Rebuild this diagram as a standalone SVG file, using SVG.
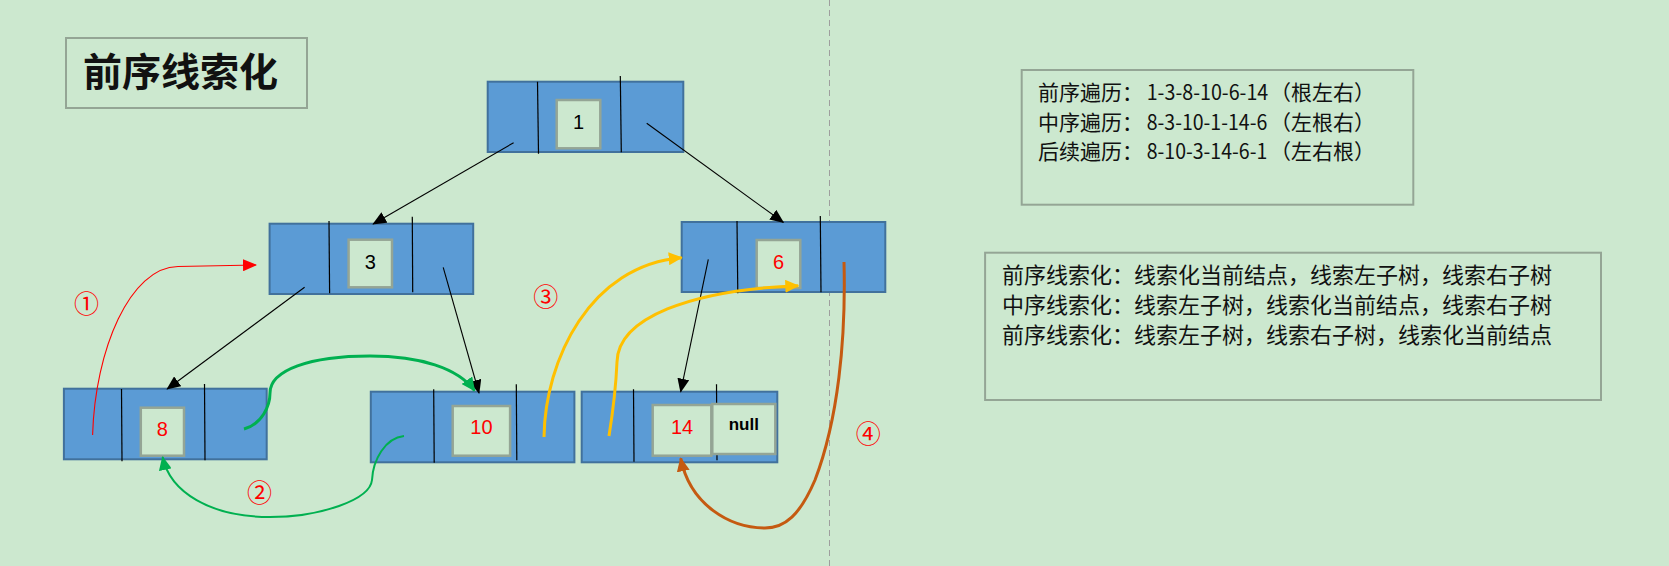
<svg xmlns="http://www.w3.org/2000/svg" width="1669" height="566" viewBox="0 0 1669 566">
<style>
.node{fill:#5B9BD5;stroke:#41719C;stroke-width:2}
.div{stroke:#000;stroke-width:1.2}
.val{fill:#CCE8CF;stroke:#94A595;stroke-width:2.5}
.num{font-family:"Liberation Sans",Arial,sans-serif;font-size:20px;text-anchor:middle}
.box{fill:none;stroke:#94A595;stroke-width:2}
.cjk{font-family:"Noto Sans CJK SC","Noto Sans",sans-serif;fill:#111}
.circ{font-family:"Noto Sans CJK SC",sans-serif;font-size:25px;fill:#FF0000;text-anchor:middle}
.blk{fill:none;stroke:#000;stroke-width:1.1}
</style>
<defs>
<marker id="aBlk" markerUnits="userSpaceOnUse" markerWidth="14" markerHeight="12" viewBox="0 0 14 12" refX="13" refY="6" orient="auto"><path d="M0,0 L14,6 L0,12 z" fill="#000"/></marker>
<marker id="aRed" markerUnits="userSpaceOnUse" markerWidth="14" markerHeight="12" viewBox="0 0 14 12" refX="13" refY="6" orient="auto"><path d="M0,0 L14,6 L0,12 z" fill="#FF0000"/></marker>
<marker id="aGrn" markerUnits="userSpaceOnUse" markerWidth="14" markerHeight="13" viewBox="0 0 14 13" refX="13" refY="6.5" orient="auto"><path d="M0,0 L14,6.5 L0,13 z" fill="#00B050"/></marker>
<marker id="aYel" markerUnits="userSpaceOnUse" markerWidth="14" markerHeight="13" viewBox="0 0 14 13" refX="13" refY="6.5" orient="auto"><path d="M0,0 L14,6.5 L0,13 z" fill="#FFC000"/></marker>
<marker id="aBrn" markerUnits="userSpaceOnUse" markerWidth="14" markerHeight="13" viewBox="0 0 14 13" refX="13" refY="6.5" orient="auto"><path d="M0,0 L14,6.5 L0,13 z" fill="#C55A11"/></marker>
</defs>
<rect x="0" y="0" width="1669" height="566" fill="#CCE8CF"/>
<line x1="829.5" y1="0" x2="829.5" y2="566" stroke="#9E9E9E" stroke-width="1" stroke-dasharray="6 4"/>

<g id="title">
<rect class="box" x="66" y="38" width="241" height="70"/>
<text class="cjk" x="83" y="86" font-size="39" font-weight="bold" fill="#000">前序线索化</text>
</g>

<g id="node1">
<rect class="node" x="487.7" y="81.7" width="195.6" height="70.3"/>
<line class="div" x1="537.5" y1="81.7" x2="538.5" y2="153.7"/>
<line class="div" x1="620.3" y1="76" x2="621.3" y2="152.3"/>
<rect class="val" x="556.7" y="100" width="43.6" height="48.3"/>
<text class="num" x="578.5" y="128.5">1</text>
</g>

<g id="node3">
<rect class="node" x="269.6" y="223.7" width="203.6" height="70.3"/>
<line class="div" x1="329" y1="221" x2="329.6" y2="293.3"/>
<line class="div" x1="412.3" y1="216.7" x2="412.7" y2="292.3"/>
<rect class="val" x="348.6" y="239.7" width="43.4" height="47.6"/>
<text class="num" x="370.3" y="268.5">3</text>
</g>

<g id="node6">
<rect class="node" x="681.7" y="222" width="203.6" height="70"/>
<line class="div" x1="737" y1="221" x2="737.8" y2="293.3"/>
<line class="div" x1="820.3" y1="216" x2="821" y2="292.3"/>
<rect class="val" x="756.7" y="240" width="43.6" height="48"/>
<text class="num" x="778.5" y="269" fill="#FF0000">6</text>
</g>

<g id="node8">
<rect class="node" x="63.9" y="388.7" width="202.8" height="70.6"/>
<line class="div" x1="121.5" y1="389" x2="122" y2="461.3"/>
<line class="div" x1="204.5" y1="384" x2="205" y2="460.3"/>
<rect class="val" x="140.8" y="407.7" width="43.2" height="48"/>
<text class="num" x="162.4" y="436" fill="#FF0000">8</text>
</g>

<g id="node10">
<rect class="node" x="370.8" y="391.7" width="203.6" height="70.6"/>
<line class="div" x1="433.7" y1="389.3" x2="434.2" y2="462.7"/>
<line class="div" x1="516.3" y1="384.3" x2="516.8" y2="460.3"/>
<rect class="val" x="452.7" y="406" width="57.4" height="49.7"/>
<text class="num" x="481.4" y="434" fill="#FF0000">10</text>
</g>

<g id="node14">
<rect class="node" x="581.7" y="391.7" width="195.6" height="70.6"/>
<line class="div" x1="633.5" y1="389.3" x2="634" y2="461.7"/>
<line class="div" x1="716.5" y1="384.3" x2="717" y2="460.3"/>
<rect class="val" x="652.7" y="405" width="58.6" height="50.7"/>
<text class="num" x="682" y="433.5" fill="#FF0000">14</text>
<rect class="val" x="712.3" y="404" width="63" height="50"/>
<text x="743.8" y="430" font-family="Liberation Sans,Arial,sans-serif" font-size="17" font-weight="bold" text-anchor="middle" fill="#000">null</text>
</g>

<g id="connectors">
<path class="blk" d="M513.6,142.7 L373.2,224" marker-end="url(#aBlk)"/>
<path class="blk" d="M646.7,123.3 L783.3,222.3" marker-end="url(#aBlk)"/>
<path class="blk" d="M304.6,287.3 L167.2,389" marker-end="url(#aBlk)"/>
<path class="blk" d="M443.2,267.3 L479,393" marker-end="url(#aBlk)"/>
<path class="blk" d="M708.3,259.3 L680.7,391.7" marker-end="url(#aBlk)"/>

<path d="M92.6,435 C95,350 130,267 178,266.5 L256,265" fill="none" stroke="#FF0000" stroke-width="1.1" marker-end="url(#aRed)"/>
<path d="M244,429 C262,424 270,406 270,393 C270,370 310,356 370,356 C420,356 458,368 474.6,390.7" fill="none" stroke="#00B050" stroke-width="3" marker-end="url(#aGrn)"/>
<path d="M404,436 C385,438 373,460 372,480 C370,500 320,517 270,517 C210,517 170,492 162.6,457" fill="none" stroke="#00B050" stroke-width="2" marker-end="url(#aGrn)"/>
<path d="M544,437 C545,360 590,265 681.7,257.7" fill="none" stroke="#FFC000" stroke-width="3" marker-end="url(#aYel)"/>
<path d="M609,436 C614,405 616,385 617,362 C618,318 690,290 798.3,285.7" fill="none" stroke="#FFC000" stroke-width="3" marker-end="url(#aYel)"/>
<path d="M844,262 C846,340 838,420 815,480 C800,515 785,528 765,528 C730,528 690,505 680.7,458.3" fill="none" stroke="#C55A11" stroke-width="3" marker-end="url(#aBrn)"/>
</g>

<g id="labels">
<text class="circ" x="86.5" y="312.5">①</text>
<text class="circ" x="259.5" y="502">②</text>
<text class="circ" x="545.7" y="305.5">③</text>
<text class="circ" x="868.3" y="443">④</text>
</g>

<g id="traversal">
<rect class="box" x="1021.7" y="70" width="391.6" height="134.7"/>
<text class="cjk" font-size="21"><tspan x="1038" y="100">前序遍历：</tspan><tspan x="1146.7" y="100" textLength="121.6" lengthAdjust="spacingAndGlyphs">1-3-8-10-6-14</tspan><tspan x="1270" y="100">（根左右）</tspan></text>
<text class="cjk" font-size="21"><tspan x="1038" y="129.5">中序遍历：</tspan><tspan x="1146.7" y="129.5" textLength="120.6" lengthAdjust="spacingAndGlyphs">8-3-10-1-14-6</tspan><tspan x="1270" y="129.5">（左根右）</tspan></text>
<text class="cjk" font-size="21"><tspan x="1038" y="158.7">后续遍历：</tspan><tspan x="1146.7" y="158.7" textLength="120.6" lengthAdjust="spacingAndGlyphs">8-10-3-14-6-1</tspan><tspan x="1270" y="158.7">（左右根）</tspan></text>
</g>

<g id="threading">
<rect class="box" x="985.1" y="252.7" width="615.9" height="147.3"/>
<text class="cjk" font-size="22" x="1002" y="283">前序线索化：线索化当前结点，线索左子树，线索右子树</text>
<text class="cjk" font-size="22" x="1002" y="313">中序线索化：线索左子树，线索化当前结点，线索右子树</text>
<text class="cjk" font-size="22" x="1002" y="342.5">前序线索化：线索左子树，线索右子树，线索化当前结点</text>
</g>
</svg>
